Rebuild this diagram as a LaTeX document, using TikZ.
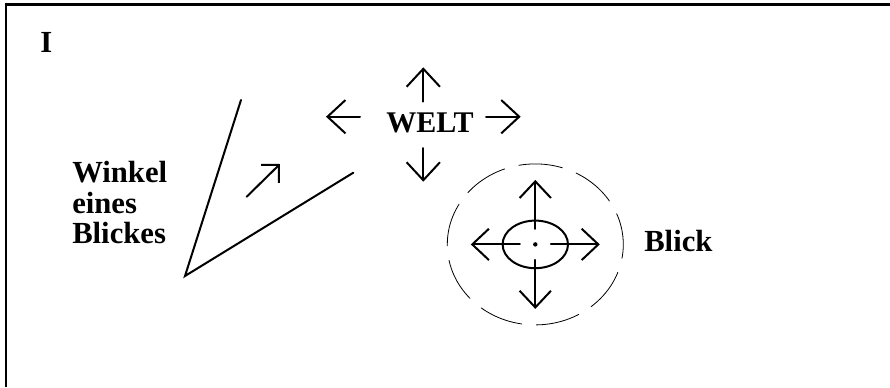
\documentclass[tikz,border=0pt]{standalone}
\usepackage{fontspec}
\setmainfont{Liberation Serif}
\usetikzlibrary{arrows.meta}
\begin{document}
\begin{tikzpicture}[x=0.75pt,y=-0.75pt,line join=round,line cap=round,
		>={Straight Barb[length=13.5pt,width=25pt]},
		txt/.style={font=\fontsize{23}{23}\selectfont\bfseries,inner sep=0pt},
		pfeil/.style={->,line width=1.5pt}]
	\useasboundingbox (0,0) rectangle (890,387);
	\draw[line width=1.7pt,line cap=butt,line join=miter] (6,387)--(6,4.5)--(890,4.5);
	% Texte
	\node[txt,anchor=base west] (nr) at (40,52) {I};
	\node[txt,anchor=base west,font=\fontsize{22.5}{23}\selectfont\bfseries] (welt) at (386,132.7) {WELT};
	\node[txt,anchor=base west] (blick) at (644,251.7) {Blick};
	\node[txt,align=left,anchor=north west] (winkel) at (72,161) {Winkel\\eines\\Blickes};
	% Winkel
	\coordinate (spitze) at (185,276);
	\coordinate (schenkelA) at (241,100);
	\coordinate (schenkelB) at (353.3,172.7);
	\draw[line width=1.5pt,line join=miter] (schenkelA)--(spitze)--(schenkelB);
	\draw[pfeil,>={Straight Barb[length=9.5pt,width=19pt]}] (246.7,196.7)--(280,164);
	% Welt
	\draw[pfeil] (423.3,101.7)--(423.3,67.3);
	\draw[pfeil] (423.3,148)--(423.3,181.7);
	\draw[pfeil] (360,116.7)--(326,116.7);
	\draw[pfeil] (486,116.7)--(520.7,116.7);
	% Blick
	\coordinate (auge) at (535.3,244.4);
	\draw[line width=1.5pt] (auge) ellipse [x radius=32.7,y radius=23.8];
	\fill (auge) circle [radius=2.2];
	\foreach \w in {0,90,180,270}
		\draw[pfeil,>={Straight Barb[length=12.5pt,width=23.5pt]}] (auge) ++(\w:15.5) -- ++(\w:49);
	\draw[line width=0.6pt,dash pattern=on 33pt off 11pt,dash phase=22.5pt] (auge) ellipse [x radius=88,y radius=80.5];
\end{tikzpicture}
\end{document}
